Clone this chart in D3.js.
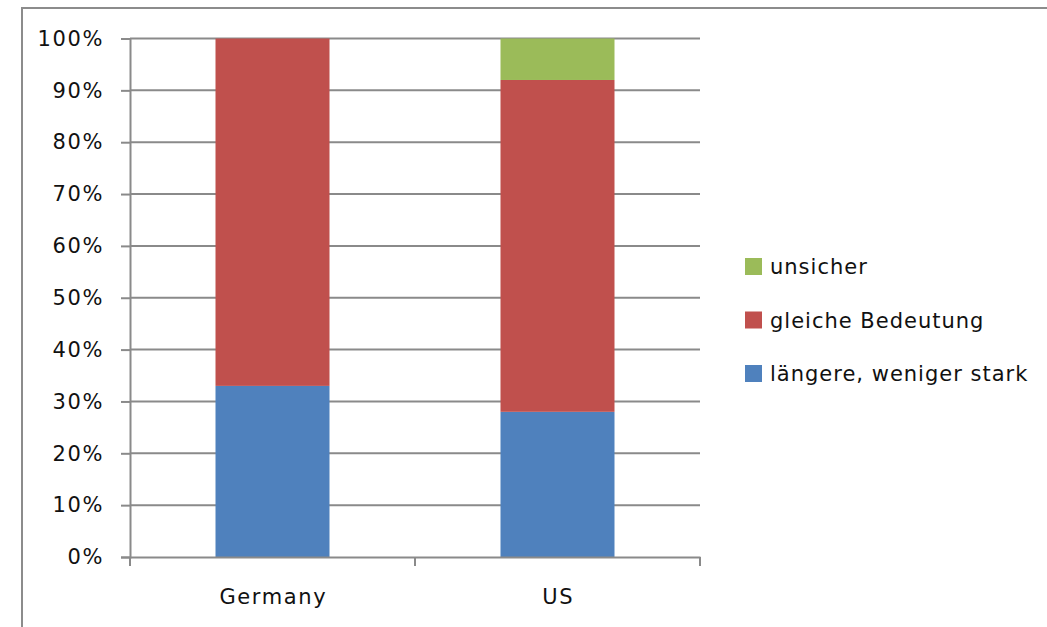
<!DOCTYPE html>
<html>
<head>
<meta charset="utf-8">
<script src="https://cdn.jsdelivr.net/npm/d3@7"></script>
<style>
  html, body { margin: 0; padding: 0; background: #fff; }
  svg { display: block; }
  text { font-family: "DejaVu Sans", Verdana, sans-serif; fill: #111; }
</style>
</head>
<body>
<svg id="chart" width="1047" height="627"></svg>
<script>
// Survey answers per country, in percent
const categories = ["Germany", "US"];
const seriesNames = ["längere, weniger stark", "gleiche Bedeutung", "unsicher"];
const laengere = [33, 28];
const gleiche = [67, 64];
const unsicher = [0, 8];
const seriesColors = ["#4F81BD", "#C0504D", "#9BBB59"];
const yTicks = [0, 10, 20, 30, 40, 50, 60, 70, 80, 90, 100];

const rows = categories.map((c, i) => ({
  category: c,
  [seriesNames[0]]: laengere[i],
  [seriesNames[1]]: gleiche[i],
  [seriesNames[2]]: unsicher[i]
}));

const svg = d3.select("#chart");
const plot = { left: 130, right: 700, top: 38.5, bottom: 557 };
const fontSize = 21;
const axisSpacing = 1.6;
const legendSpacing = 1.0;

// Outer chart frame (runs off the right and bottom edges)
svg.append("path")
  .attr("d", "M22,627 L22,8 L1047,8")
  .attr("fill", "none")
  .attr("stroke", "#8c8c8c")
  .attr("stroke-width", 2);

const x = d3.scaleBand().domain(categories).range([plot.left, plot.right]).paddingInner(0).paddingOuter(0);
const y = d3.scaleLinear().domain([0, 100]).range([plot.bottom, plot.top]);

// Horizontal gridlines
svg.append("g")
  .selectAll("line")
  .data(yTicks.filter(t => t > 0))
  .join("line")
  .attr("x1", plot.left).attr("x2", plot.right)
  .attr("y1", d => y(d)).attr("y2", d => y(d))
  .attr("stroke", "#8a8a8a")
  .attr("stroke-width", 2);

// Stacked columns
const stack = d3.stack().keys(seriesNames)(rows);
const barW = x.bandwidth() * 0.4;
svg.append("g")
  .selectAll("g")
  .data(stack)
  .join("g")
  .attr("fill", (d, i) => seriesColors[i])
  .selectAll("rect")
  .data(d => d)
  .join("rect")
  .attr("x", d => x(d.data.category) + (x.bandwidth() - barW) / 2)
  .attr("width", barW)
  .attr("y", d => y(d[1]))
  .attr("height", d => y(d[0]) - y(d[1]));

// Y axis
const yAxis = svg.append("g")
  .attr("transform", `translate(${plot.left},0)`)
  .call(d3.axisLeft(y).tickValues(yTicks).tickFormat(d => d + "%").tickSize(9).tickPadding(17));
yAxis.select(".domain").attr("stroke", "#8a8a8a").attr("stroke-width", 2);
yAxis.selectAll(".tick line").attr("stroke", "#8a8a8a").attr("stroke-width", 2);
yAxis.selectAll(".tick text")
  .attr("font-size", fontSize).attr("font-family", "DejaVu Sans")
  .attr("letter-spacing", axisSpacing).attr("fill", "#111");

// X axis
const xAxis = svg.append("g")
  .attr("transform", `translate(0,${plot.bottom})`)
  .call(d3.axisBottom(x).tickSize(0).tickPadding(32));
xAxis.select(".domain").attr("stroke", "#8a8a8a").attr("stroke-width", 2);
xAxis.selectAll(".tick text")
  .attr("font-size", fontSize).attr("font-family", "DejaVu Sans")
  .attr("letter-spacing", axisSpacing).attr("dx", axisSpacing / 2).attr("fill", "#111");
// Category boundary tick marks
svg.append("g")
  .selectAll("line")
  .data([plot.left, x("US"), plot.right])
  .join("line")
  .attr("x1", d => d).attr("x2", d => d)
  .attr("y1", plot.bottom).attr("y2", plot.bottom + 9)
  .attr("stroke", "#8a8a8a")
  .attr("stroke-width", 2);

// Legend (top entry is the top segment)
const legendItems = seriesNames.map((n, i) => ({ name: n, color: seriesColors[i] })).reverse();
const legend = svg.append("g").attr("transform", "translate(745,258)");
const li = legend.selectAll("g")
  .data(legendItems)
  .join("g")
  .attr("transform", (d, i) => `translate(0,${i * 53.5})`);
li.append("rect").attr("width", 17).attr("height", 17).attr("fill", d => d.color);
li.append("text")
  .attr("x", 25).attr("y", 9)
  .attr("dominant-baseline", "central")
  .attr("font-size", fontSize)
  .attr("letter-spacing", legendSpacing)
  .text(d => d.name);
</script>
</body>
</html>
